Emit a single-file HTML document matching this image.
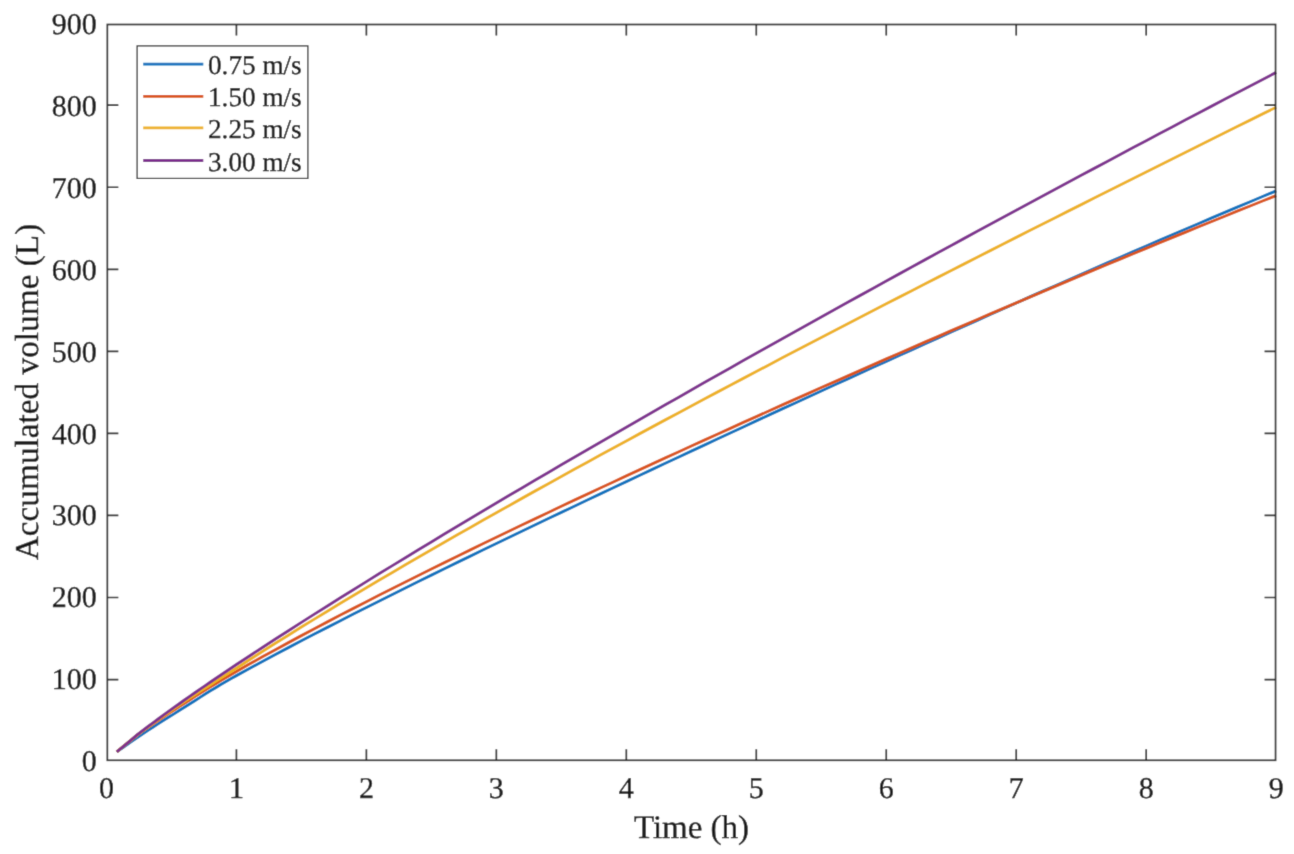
<!DOCTYPE html>
<html><head><meta charset="utf-8"><style>
html,body{margin:0;padding:0;background:#fff;}
svg{display:block;}
text{text-rendering:geometricPrecision;font-family:"Liberation Serif",serif;fill:#141414;stroke:#141414;stroke-width:0.4px;}
</style></head><body>
<svg width="1294" height="854" viewBox="0 0 1294 854">
<defs><filter id="bl" x="0" y="0" width="1294" height="854" filterUnits="userSpaceOnUse"><feConvolveMatrix order="3" kernelMatrix="0.0144 0.0912 0.0144 0.0912 0.5776 0.0912 0.0144 0.0912 0.0144" divisor="1" edgeMode="duplicate" preserveAlpha="true"/></filter></defs>
<g filter="url(#bl)">
<rect x="0" y="0" width="1294" height="854" fill="#fff"/>

<g fill="none" stroke-width="2.90" stroke-linejoin="round" stroke-linecap="butt">
<path d="M116.69,751.92 L123.68,747.03 L130.66,742.14 L137.64,737.24 L142.84,733.75 L148.04,730.32 L153.24,726.94 L158.44,723.61 L163.64,720.33 L168.84,717.08 L174.03,713.86 L179.23,710.60 L184.43,707.29 L189.63,703.97 L194.83,700.66 L200.03,697.35 L205.23,694.08 L210.43,690.84 L215.62,687.66 L220.82,684.55 L226.02,681.49 L231.22,678.52 L236.42,675.62 L249.42,668.51 L262.41,661.49 L275.41,654.54 L288.41,647.65 L301.40,640.83 L314.40,634.07 L327.40,627.36 L340.40,620.70 L353.39,614.08 L366.39,607.50 L379.39,600.96 L392.38,594.46 L405.38,587.99 L418.38,581.56 L431.38,575.15 L444.37,568.77 L457.37,562.42 L470.37,556.09 L483.36,549.78 L496.36,543.50 L509.36,537.24 L522.35,531.00 L535.35,524.77 L548.35,518.56 L561.35,512.37 L574.34,506.19 L587.34,500.03 L600.34,493.88 L613.33,487.74 L626.33,481.62 L639.33,475.50 L652.32,469.40 L665.32,463.31 L678.32,457.22 L691.32,451.15 L704.31,445.09 L717.31,439.04 L730.31,432.99 L743.30,426.96 L756.30,420.94 L769.30,414.93 L782.29,408.93 L795.29,402.95 L808.29,396.97 L821.29,391.00 L834.28,385.05 L847.28,379.10 L860.28,373.17 L873.27,367.25 L886.27,361.34 L899.27,355.45 L912.26,349.56 L925.26,343.69 L938.26,337.83 L951.25,331.99 L964.25,326.15 L977.25,320.33 L990.25,314.53 L1003.24,308.74 L1016.24,302.96 L1029.24,297.20 L1042.23,291.45 L1055.23,285.72 L1068.23,280.00 L1081.22,274.30 L1094.22,268.61 L1107.22,262.94 L1120.22,257.29 L1133.21,251.65 L1146.21,246.03 L1159.21,240.43 L1172.20,234.84 L1185.20,229.27 L1198.20,223.72 L1211.19,218.19 L1224.19,212.68 L1237.19,207.19 L1250.19,201.72 L1263.18,196.26 L1276.18,190.83" stroke="#0072BD"/>
<path d="M116.69,751.92 L123.68,746.15 L130.66,740.39 L137.64,734.63 L142.84,730.90 L148.04,727.25 L153.24,723.68 L158.44,720.18 L163.64,716.72 L168.84,713.32 L174.03,709.96 L179.23,706.60 L184.43,703.25 L189.63,699.92 L194.83,696.61 L200.03,693.33 L205.23,690.08 L210.43,686.86 L215.62,683.69 L220.82,680.57 L226.02,677.48 L231.22,674.45 L236.42,671.46 L249.42,664.11 L262.41,656.85 L275.41,649.70 L288.41,642.63 L301.40,635.64 L314.40,628.72 L327.40,621.87 L340.40,615.08 L353.39,608.35 L366.39,601.68 L379.39,595.05 L392.38,588.47 L405.38,581.94 L418.38,575.45 L431.38,568.99 L444.37,562.58 L457.37,556.20 L470.37,549.86 L483.36,543.55 L496.36,537.27 L509.36,531.02 L522.35,524.80 L535.35,518.61 L548.35,512.44 L561.35,506.29 L574.34,500.17 L587.34,494.08 L600.34,488.00 L613.33,481.95 L626.33,475.92 L639.33,469.90 L652.32,463.91 L665.32,457.93 L678.32,451.97 L691.32,446.03 L704.31,440.11 L717.31,434.20 L730.31,428.31 L743.30,422.44 L756.30,416.58 L769.30,410.75 L782.29,404.92 L795.29,399.12 L808.29,393.33 L821.29,387.55 L834.28,381.80 L847.28,376.05 L860.28,370.33 L873.27,364.62 L886.27,358.92 L899.27,353.24 L912.26,347.58 L925.26,341.93 L938.26,336.30 L951.25,330.69 L964.25,325.08 L977.25,319.50 L990.25,313.93 L1003.24,308.38 L1016.24,302.84 L1029.24,297.32 L1042.23,291.81 L1055.23,286.32 L1068.23,280.85 L1081.22,275.39 L1094.22,269.95 L1107.22,264.53 L1120.22,259.12 L1133.21,253.73 L1146.21,248.36 L1159.21,243.00 L1172.20,237.66 L1185.20,232.33 L1198.20,227.03 L1211.19,221.74 L1224.19,216.47 L1237.19,211.21 L1250.19,205.97 L1263.18,200.76 L1276.18,195.56" stroke="#D95319"/>
<path d="M116.69,751.92 L123.68,746.21 L130.66,740.50 L137.64,734.78 L142.84,730.88 L148.04,727.04 L153.24,723.26 L158.44,719.53 L163.64,715.85 L168.84,712.20 L174.03,708.59 L179.23,705.04 L184.43,701.55 L189.63,698.11 L194.83,694.71 L200.03,691.35 L205.23,688.01 L210.43,684.69 L215.62,681.38 L220.82,678.08 L226.02,674.78 L231.22,671.48 L236.42,668.16 L249.42,659.78 L262.41,651.49 L275.41,643.28 L288.41,635.16 L301.40,627.10 L314.40,619.12 L327.40,611.20 L340.40,603.34 L353.39,595.54 L366.39,587.79 L379.39,580.09 L392.38,572.43 L405.38,564.83 L418.38,557.26 L431.38,549.74 L444.37,542.26 L457.37,534.82 L470.37,527.41 L483.36,520.04 L496.36,512.70 L509.36,505.39 L522.35,498.12 L535.35,490.87 L548.35,483.66 L561.35,476.47 L574.34,469.31 L587.34,462.18 L600.34,455.07 L613.33,447.98 L626.33,440.92 L639.33,433.89 L652.32,426.87 L665.32,419.88 L678.32,412.91 L691.32,405.96 L704.31,399.03 L717.31,392.12 L730.31,385.23 L743.30,378.35 L756.30,371.50 L769.30,364.66 L782.29,357.83 L795.29,351.03 L808.29,344.24 L821.29,337.46 L834.28,330.70 L847.28,323.96 L860.28,317.23 L873.27,310.51 L886.27,303.81 L899.27,297.11 L912.26,290.44 L925.26,283.77 L938.26,277.11 L951.25,270.47 L964.25,263.84 L977.25,257.22 L990.25,250.60 L1003.24,244.00 L1016.24,237.41 L1029.24,230.83 L1042.23,224.26 L1055.23,217.69 L1068.23,211.14 L1081.22,204.59 L1094.22,198.05 L1107.22,191.52 L1120.22,185.00 L1133.21,178.48 L1146.21,171.97 L1159.21,165.47 L1172.20,158.97 L1185.20,152.48 L1198.20,145.99 L1211.19,139.51 L1224.19,133.04 L1237.19,126.57 L1250.19,120.10 L1263.18,113.64 L1276.18,107.19" stroke="#EDB120"/>
<path d="M116.69,751.92 L123.68,746.09 L130.66,740.26 L137.64,734.43 L142.84,730.42 L148.04,726.47 L153.24,722.58 L158.44,718.74 L163.64,714.93 L168.84,711.16 L174.03,707.43 L179.23,703.72 L184.43,700.04 L189.63,696.39 L194.83,692.77 L200.03,689.16 L205.23,685.59 L210.43,682.04 L215.62,678.51 L220.82,675.00 L226.02,671.50 L231.22,668.03 L236.42,664.57 L249.42,655.98 L262.41,647.47 L275.41,639.03 L288.41,630.67 L301.40,622.36 L314.40,614.11 L327.40,605.92 L340.40,597.77 L353.39,589.67 L366.39,581.61 L379.39,573.60 L392.38,565.62 L405.38,557.69 L418.38,549.78 L431.38,541.91 L444.37,534.08 L457.37,526.27 L470.37,518.50 L483.36,510.75 L496.36,503.03 L509.36,495.33 L522.35,487.67 L535.35,480.02 L548.35,472.40 L561.35,464.81 L574.34,457.23 L587.34,449.68 L600.34,442.15 L613.33,434.64 L626.33,427.15 L639.33,419.68 L652.32,412.23 L665.32,404.80 L678.32,397.39 L691.32,389.99 L704.31,382.61 L717.31,375.25 L730.31,367.91 L743.30,360.58 L756.30,353.28 L769.30,345.98 L782.29,338.70 L795.29,331.44 L808.29,324.20 L821.29,316.97 L834.28,309.75 L847.28,302.55 L860.28,295.36 L873.27,288.19 L886.27,281.03 L899.27,273.89 L912.26,266.76 L925.26,259.64 L938.26,252.54 L951.25,245.45 L964.25,238.38 L977.25,231.32 L990.25,224.27 L1003.24,217.23 L1016.24,210.21 L1029.24,203.20 L1042.23,196.20 L1055.23,189.22 L1068.23,182.25 L1081.22,175.29 L1094.22,168.35 L1107.22,161.41 L1120.22,154.49 L1133.21,147.59 L1146.21,140.69 L1159.21,133.81 L1172.20,126.94 L1185.20,120.08 L1198.20,113.23 L1211.19,106.40 L1224.19,99.57 L1237.19,92.76 L1250.19,85.96 L1263.18,79.18 L1276.18,72.40" stroke="#7E2F8E"/>
</g>
<path d="M236.42,760.30V749.30M236.42,24.50V35.50M366.39,760.30V749.30M366.39,24.50V35.50M496.36,760.30V749.30M496.36,24.50V35.50M626.33,760.30V749.30M626.33,24.50V35.50M756.30,760.30V749.30M756.30,24.50V35.50M886.27,760.30V749.30M886.27,24.50V35.50M1016.24,760.30V749.30M1016.24,24.50V35.50M1146.21,760.30V749.30M1146.21,24.50V35.50M107.35,679.55H118.35M1275.55,679.55H1264.55M107.35,597.50H118.35M1275.55,597.50H1264.55M107.35,515.45H118.35M1275.55,515.45H1264.55M107.35,433.40H118.35M1275.55,433.40H1264.55M107.35,351.35H118.35M1275.55,351.35H1264.55M107.35,269.30H118.35M1275.55,269.30H1264.55M107.35,187.25H118.35M1275.55,187.25H1264.55M107.35,105.20H118.35M1275.55,105.20H1264.55" stroke="#262626" stroke-width="1.7" fill="none"/>
<rect x="107.35" y="24.50" width="1168.20" height="735.80" stroke="#262626" stroke-width="1.7" fill="none"/>
<g font-size="30">
<text x="106.45" y="798.30" text-anchor="middle">0</text>
<text x="236.42" y="798.30" text-anchor="middle">1</text>
<text x="366.39" y="798.30" text-anchor="middle">2</text>
<text x="496.36" y="798.30" text-anchor="middle">3</text>
<text x="626.33" y="798.30" text-anchor="middle">4</text>
<text x="756.30" y="798.30" text-anchor="middle">5</text>
<text x="886.27" y="798.30" text-anchor="middle">6</text>
<text x="1016.24" y="798.30" text-anchor="middle">7</text>
<text x="1146.21" y="798.30" text-anchor="middle">8</text>
<text x="1276.18" y="798.30" text-anchor="middle">9</text>
<text x="96.80" y="771.20" text-anchor="end">0</text>
<text x="96.80" y="689.29" text-anchor="end">100</text>
<text x="96.80" y="607.39" text-anchor="end">200</text>
<text x="96.80" y="525.48" text-anchor="end">300</text>
<text x="96.80" y="443.58" text-anchor="end">400</text>
<text x="96.80" y="361.67" text-anchor="end">500</text>
<text x="96.80" y="279.76" text-anchor="end">600</text>
<text x="96.80" y="197.86" text-anchor="end">700</text>
<text x="96.80" y="115.95" text-anchor="end">800</text>
<text x="96.80" y="34.05" text-anchor="end">900</text>
</g>
<text x="691.5" y="838.2" font-size="33" text-anchor="middle">Time (h)</text>
<text transform="translate(37.8,392) rotate(-90)" x="0" y="0" font-size="33.3" text-anchor="middle">Accumulated volume (L)</text>
<rect x="137.1" y="45.9" width="170.8" height="132.5" fill="#fff" stroke="#262626" stroke-width="1.2"/>
<line x1="143.2" y1="64.1" x2="203.3" y2="64.1" stroke="#0072BD" stroke-width="2.9"/>
<text x="208" y="74.1" font-size="27.2">0.75 m/s</text>
<line x1="143.2" y1="96.4" x2="203.3" y2="96.4" stroke="#D95319" stroke-width="2.9"/>
<text x="208" y="106.4" font-size="27.2">1.50 m/s</text>
<line x1="143.2" y1="127.9" x2="203.3" y2="127.9" stroke="#EDB120" stroke-width="2.9"/>
<text x="208" y="137.9" font-size="27.2">2.25 m/s</text>
<line x1="143.2" y1="160.5" x2="203.3" y2="160.5" stroke="#7E2F8E" stroke-width="2.9"/>
<text x="208" y="170.5" font-size="27.2">3.00 m/s</text>
</g></svg></body></html>
